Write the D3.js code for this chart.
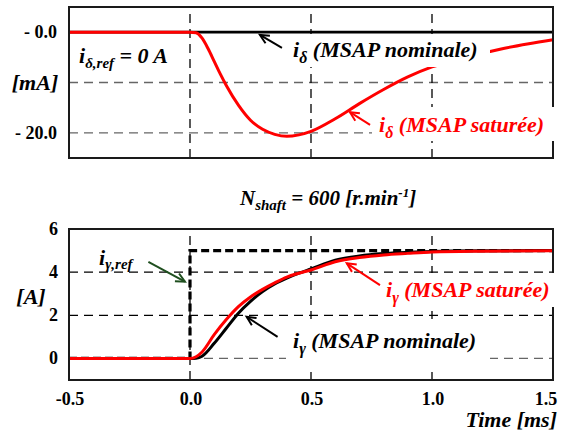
<!DOCTYPE html>
<html><head><meta charset="utf-8">
<script src="https://cdn.jsdelivr.net/npm/d3@7"></script>
<style>body{margin:0;background:#fff}</style>
</head><body>
<svg id="c" width="565" height="434"></svg>
<script>
// ---- data ----
const deltaTime = [-0.5,0,0.025,0.05,0.075,0.1,0.125,0.15,0.2,0.25,0.3,0.35,0.4,0.45,0.5,0.6,0.7,0.8,0.9,1.0,1.1,1.2,1.3,1.4,1.5];
const deltaSat  = [0,0,-0.1,-1.2,-3.3,-5.8,-8.3,-10.6,-14.5,-17.5,-19.3,-20.3,-20.7,-20.4,-19.7,-17.2,-14.2,-11.4,-8.9,-6.9,-5.5,-4.3,-3.2,-2.3,-1.5];
const deltaNom  = [0,0,0,0,0,0,0,0,0,0,0,0,0,0,0,0,0,0,0,0,0,0,0,0,0];
const gammaTime = [-0.5,0,0.025,0.05,0.1,0.15,0.2,0.25,0.3,0.35,0.4,0.45,0.5,0.6,0.7,0.8,0.9,1.0,1.2,1.5];
const gammaNom  = [0,0,0.01,0.1,0.7,1.4,2.1,2.65,3.1,3.45,3.72,3.95,4.15,4.55,4.75,4.86,4.92,4.96,4.99,5.0];
const gammaSat  = [0,0,0.08,0.3,1.1,1.8,2.4,2.85,3.2,3.5,3.77,3.95,4.1,4.48,4.68,4.8,4.87,4.93,4.97,4.99];
const refTime   = [-0.5,0,0,1.5];
const refVal    = [0,0,5,5];
const xTicks    = [-0.5,0.0,0.5,1.0,1.5];
const xTickLabels = ["-0.5","0.0","0.5","1.0","1.5"];
const topTicks  = [0,-20];
const topTickLabels = ["- 0.0","- 20.0"];
const botTicks  = [0,2,4,6];
const botTickLabels = ["0","2","4","6"];

const FONT = "Liberation Serif";
const svg = d3.select("#c");
const RED = "#ff0000";
const x = d3.scaleLinear().domain([-0.5,1.5]).range([69,553]);
const yT = d3.scaleLinear().domain([-25,5]).range([158,7]);
const yB = d3.scaleLinear().domain([-1,6]).range([380,229]);

function zip(t,v){return t.map((d,i)=>[d,v[i]]);}
function lineFor(ys,curve){return d3.line().x(d=>x(d[0])).y(d=>ys(d[1])).curve(curve||d3.curveMonotoneX);}
function txt(xp,yp,size,italic){
  return svg.append("text").attr("x",xp).attr("y",yp).attr("font-family",FONT)
    .attr("font-weight","bold").attr("font-size",size).attr("font-style",italic?"italic":"normal");
}
function arrow(g,x1,y1,x2,y2,color){
  const a=Math.atan2(y2-y1,x2-x1), L=10, w=0.45;
  g.append("line").attr("x1",x1).attr("y1",y1).attr("x2",x2).attr("y2",y2).attr("stroke",color).attr("stroke-width",2);
  g.append("path").attr("d",`M${x2-L*Math.cos(a-w)},${y2-L*Math.sin(a-w)}L${x2},${y2}L${x2-L*Math.cos(a+w)},${y2-L*Math.sin(a+w)}`)
   .attr("fill","none").attr("stroke",color).attr("stroke-width",2);
}
function panel(ys, hGrid, hGridColors){
  const g = svg.append("g");
  hGrid.forEach((v,i)=>g.append("line").attr("x1",x.range()[0]).attr("x2",x.range()[1]).attr("y1",ys(v)).attr("y2",ys(v))
     .attr("stroke",hGridColors[i]).attr("stroke-width",1.3).attr("stroke-dasharray","9,6"));
  [0,0.5,1.0].forEach(t=>g.append("line").attr("x1",x(t)).attr("x2",x(t)).attr("y1",ys.range()[0]).attr("y2",ys.range()[1])
     .attr("stroke","#000").attr("stroke-width",1.3).attr("stroke-dasharray","9,6"));
  return g;
}
function border(ys){
  svg.append("rect").attr("x",x.range()[0]).attr("y",ys.range()[1]).attr("width",x.range()[1]-x.range()[0])
    .attr("height",ys.range()[0]-ys.range()[1]).attr("fill","none").attr("stroke","#1a1a1a").attr("stroke-width",2);
}
function box(x0,y0,x1,y1){svg.append("rect").attr("x",x0).attr("y",y0).attr("width",x1-x0).attr("height",y1-y0).attr("fill","#fff");}
function seriesLabel(xp,yp,sym,rest,color){
  const t=txt(xp,yp,22,true).attr("fill",color);
  t.append("tspan").text("i");
  t.append("tspan").attr("font-size",16).attr("dy",6).text(sym);
  t.append("tspan").attr("dy",-6).text(rest);
}

// ===== top panel =====
panel(yT,[-10,-20],["#666","#666"]);
svg.append("path").datum(zip(deltaTime,deltaNom)).attr("d",lineFor(yT)).attr("fill","none").attr("stroke","#000").attr("stroke-width",2.6);
svg.append("path").datum(zip(deltaTime,deltaSat)).attr("d",lineFor(yT)).attr("fill","none").attr("stroke",RED).attr("stroke-width",3);
border(yT);
box(286,34,490,67);
box(372,107,557,141);

topTicks.forEach((v,i)=>txt(57,yT(v)+6,18,false).attr("text-anchor","end").text(topTickLabels[i]));
txt(35,yT(-10)+7,22,true).attr("text-anchor","middle").text("[mA]");

{const t=txt(79,63,22,true);
 t.append("tspan").text("i");
 t.append("tspan").attr("font-size",15).attr("dy",5).text("δ,ref");
 t.append("tspan").attr("dy",-5).text(" = 0 A");}
seriesLabel(293,57,"δ"," (MSAP nominale)","#000");
seriesLabel(379,132,"δ"," (MSAP saturée)",RED);
arrow(svg,x(0.38),yT(-3.1),x(0.289),yT(-0.56),"#000");
arrow(svg,x(0.744),yT(-18.4),x(0.661),yT(-15.9),RED);

{const t=txt(240,205,21,true);
 t.append("tspan").text("N");
 t.append("tspan").attr("font-size",15).attr("dy",5).text("shaft");
 t.append("tspan").attr("dy",-5).text(" = 600 [r.min");
 t.append("tspan").attr("font-size",13).attr("dy",-8).text("-1");
 t.append("tspan").attr("dy",8).text("]");}

// ===== bottom panel =====
panel(yB,[4,2,0],["#000","#000","#666"]);
svg.append("path").datum(zip(refTime,refVal)).attr("d",lineFor(yB,d3.curveLinear)).attr("fill","none").attr("stroke","#000").attr("stroke-width",3.2).attr("stroke-dasharray","8,4");
svg.append("path").datum(zip(gammaTime,gammaNom)).attr("d",lineFor(yB)).attr("fill","none").attr("stroke","#000").attr("stroke-width",3);
svg.append("path").datum(zip(gammaTime,gammaSat)).attr("d",lineFor(yB)).attr("fill","none").attr("stroke",RED).attr("stroke-width",3);
border(yB);
box(380,273,557,307);
box(286,319,490,372);

botTicks.forEach((v,i)=>txt(58,yB(v)+6,18,false).attr("text-anchor","end").text(botTickLabels[i]));
txt(31,304,22,true).attr("text-anchor","middle").text("[A]");
xTicks.forEach((v,i)=>txt(Math.min(x(v)+1,546),405,18,false).attr("text-anchor","middle").text(xTickLabels[i]));
txt(557,427,22,true).attr("text-anchor","end").text("Time [ms]");

{const t=txt(99,265,22,true);
 t.append("tspan").text("i");
 t.append("tspan").attr("font-size",15).attr("dy",4).text("γ,ref");}
seriesLabel(386,297,"γ"," (MSAP saturée)",RED);
seriesLabel(293,348,"γ"," (MSAP nominale)","#000");
arrow(svg,x(-0.172),yB(4.48),x(-0.021),yB(3.56),"#1f4f1f");
arrow(svg,x(0.362),yB(1.0),x(0.234),yB(1.93),"#000");
arrow(svg,x(0.785),yB(3.4),x(0.648),yB(4.41),RED);
</script>
</body></html>
